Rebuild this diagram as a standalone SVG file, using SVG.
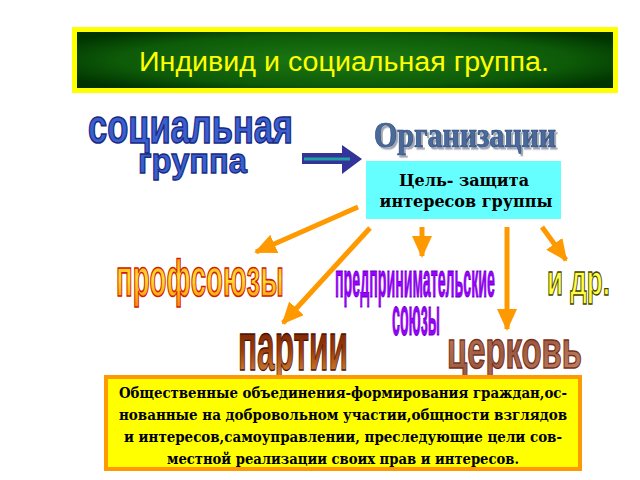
<svg xmlns="http://www.w3.org/2000/svg" width="640" height="480" viewBox="0 0 640 480">
<defs>
<radialGradient id="gTitle" cx="0.5" cy="0.5" r="0.6">
<stop offset="0" stop-color="#1d7a12"/><stop offset="0.7" stop-color="#0d5a08"/><stop offset="1" stop-color="#003300"/>
</radialGradient>
<linearGradient id="gProf" x1="0" y1="0" x2="0" y2="1">
<stop offset="0" stop-color="#ff8a00"/><stop offset="0.5" stop-color="#ffe030"/><stop offset="1" stop-color="#ff8a00"/>
</linearGradient>
<linearGradient id="gPart" x1="0" y1="0" x2="0" y2="1">
<stop offset="0" stop-color="#5a1000"/><stop offset="0.55" stop-color="#9a3a08"/><stop offset="1" stop-color="#e89a40"/>
</linearGradient>
<linearGradient id="gCerk" x1="0" y1="0" x2="1" y2="1">
<stop offset="0" stop-color="#c08060"/><stop offset="0.5" stop-color="#9a5a40"/><stop offset="1" stop-color="#c88a6a"/>
</linearGradient>
<filter id="shadow" x="-5%" y="-10%" width="115%" height="130%">
<feDropShadow dx="2" dy="2" stdDeviation="0.6" flood-color="#8890a0" flood-opacity="0.8"/>
</filter>
<marker id="ah" markerWidth="4.4" markerHeight="4" refX="4" refY="2" orient="auto" markerUnits="strokeWidth">
<path d="M0,0 L4.4,2 L0,4 Z" fill="#ff9900"/>
</marker>
<style>
.wa{font-family:"Liberation Sans",Arial,sans-serif;font-weight:bold;}
.conn{stroke:#ff9900;stroke-width:5;fill:none;marker-end:url(#ah);}
.ser{font-family:"DejaVu Serif","Liberation Serif",serif;font-weight:bold;fill:#000;text-anchor:middle;}
</style>
</defs>
<rect width="640" height="480" fill="#fff"/>

<g id="title">
<rect x="74.5" y="29.5" width="541" height="61" fill="url(#gTitle)" stroke="#ffff00" stroke-width="5"/>
<text x="344" y="71" font-family="Liberation Sans,Arial,sans-serif" font-size="27" fill="#ffff00" text-anchor="middle" textLength="410" lengthAdjust="spacingAndGlyphs">Индивид и социальная группа.</text>
</g>

<g id="social-group">
<text class="wa" transform="translate(88,143) scale(1,1.35)" font-size="35" fill="#3a5fd0" stroke="#1a2a80" stroke-width="1.2" textLength="205" lengthAdjust="spacingAndGlyphs">социальная</text>
<text class="wa" transform="translate(138,173) scale(1,1.08)" font-size="33" fill="#3a5fd0" stroke="#1a2a80" stroke-width="1.2" textLength="109" lengthAdjust="spacingAndGlyphs">группа</text>
</g>

<g id="block-arrow">
<path d="M302,153 L342,153 L342,145 L362,159 L342,174 L342,164 L302,164 Z" fill="#333399"/>
<path d="M304,157.5 L350,157.5 L350,160.5 L304,160.5 Z" fill="#20a0a0"/>
</g>

<g id="organizations">
<text transform="translate(374,147) scale(1,1.2)" font-family="Liberation Serif,serif" font-weight="bold" font-size="30" fill="#4a6a9a" stroke="#2a4a7a" stroke-width="0.6" filter="url(#shadow)" textLength="182" lengthAdjust="spacingAndGlyphs">Организации</text>
</g>

<g id="goal">
<rect x="366" y="161" width="195" height="58" fill="#66ffff"/>
<text class="ser" x="464" y="186" font-size="16" font-family="Liberation Serif,serif">Цель- защита</text>
<text class="ser" x="466" y="207" font-size="16" font-family="Liberation Serif,serif">интересов группы</text>
</g>

<g id="connectors">
<line class="conn" x1="358" y1="207" x2="256" y2="252"/>
<line class="conn" x1="370" y1="228" x2="283" y2="323"/>
<line class="conn" x1="422" y1="227" x2="422" y2="256"/>
<line class="conn" x1="507" y1="227" x2="507" y2="329"/>
<line class="conn" x1="542" y1="227" x2="566" y2="260"/>
</g>

<g id="trade-unions">
<text class="wa" transform="translate(116,296) scale(1,1.8)" font-size="29" fill="url(#gProf)" stroke="#d02000" stroke-width="0.9" textLength="168" lengthAdjust="spacingAndGlyphs">профсоюзы</text>
</g>

<g id="business-unions">
<text class="wa" transform="translate(335,297) scale(1,3.15)" font-size="15" fill="#9900ff" stroke="#6600bb" stroke-width="0.3" textLength="160" lengthAdjust="spacingAndGlyphs">предпринимательские</text>
<text class="wa" transform="translate(392,335) scale(1,3.4)" font-size="15" fill="#9900ff" stroke="#6600bb" stroke-width="0.3" textLength="48" lengthAdjust="spacingAndGlyphs">союзы</text>
</g>

<g id="etc">
<text class="wa" transform="translate(547,295) scale(1,1.65)" font-size="26" fill="#ffff44" stroke="#444400" stroke-width="0.8" textLength="63" lengthAdjust="spacingAndGlyphs">и др.</text>
</g>

<g id="parties">
<text class="wa" transform="translate(238,370) scale(1,2.15)" font-size="32" fill="url(#gPart)" stroke="#4a1000" stroke-width="0.6" textLength="110" lengthAdjust="spacingAndGlyphs">партии</text>
</g>

<g id="church">
<text class="wa" transform="translate(447,368) scale(1,1.65)" font-size="32" fill="url(#gCerk)" stroke="#7a3020" stroke-width="0.9" textLength="135" lengthAdjust="spacingAndGlyphs">церковь</text>
</g>

<g id="definition">
<rect x="106" y="377" width="474" height="92" fill="#ffff00" stroke="#ff9900" stroke-width="4"/>
<text class="ser" x="343" y="398" font-size="14" textLength="448" lengthAdjust="spacingAndGlyphs">Общественные объединения-формирования граждан,ос-</text>
<text class="ser" x="343" y="420" font-size="14" textLength="448" lengthAdjust="spacingAndGlyphs">нованные на добровольном участии,общности взглядов</text>
<text class="ser" x="343" y="442" font-size="14" textLength="438" lengthAdjust="spacingAndGlyphs">и интересов,самоуправлении, преследующие цели сов-</text>
<text class="ser" x="343" y="464" font-size="14" textLength="352" lengthAdjust="spacingAndGlyphs">местной реализации своих прав и интересов.</text>
</g>
</svg>
